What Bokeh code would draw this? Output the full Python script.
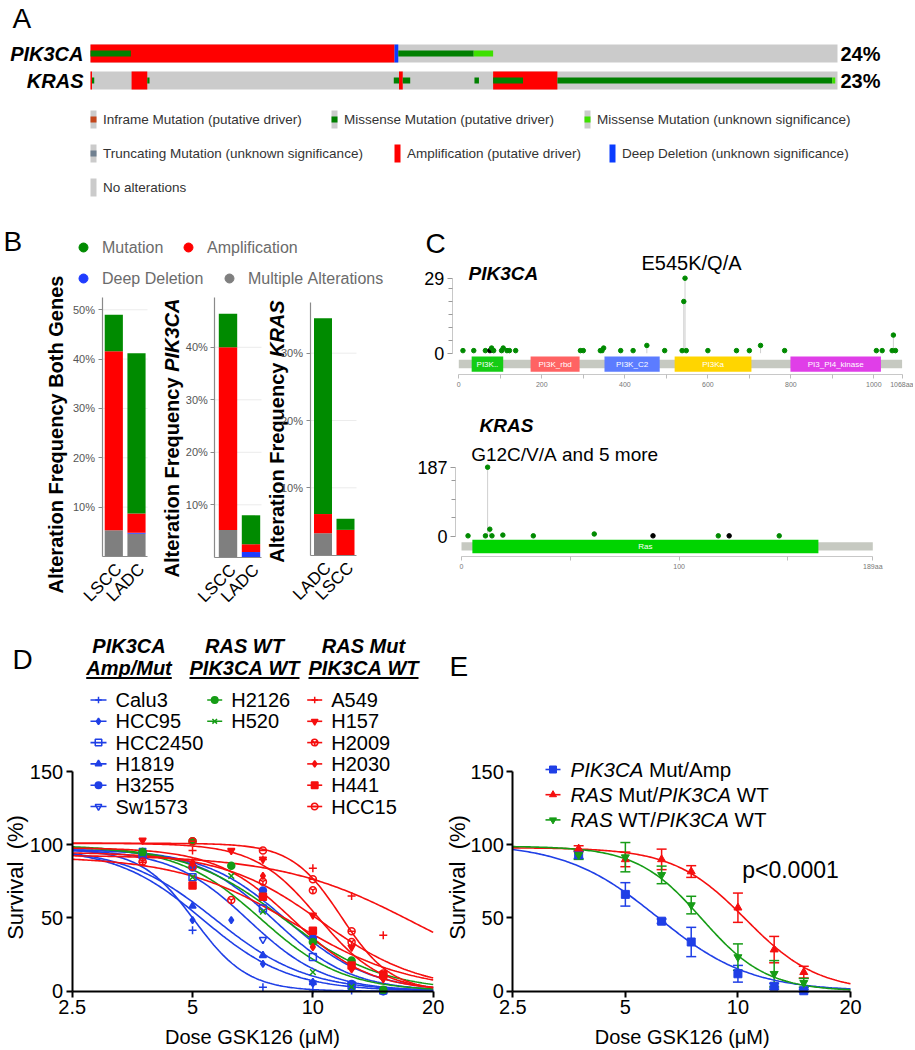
import math
import numpy as np
from bokeh.plotting import figure
from bokeh.models import (Range1d, LinearAxis, LogScale, FixedTicker,
                          CustomJSTickFormatter, ColumnDataSource, Whisker, TeeHead)
from bokeh.core.properties import value
from bokeh.embed import file_html
from bokeh.resources import INLINE

FONT = "Liberation Sans"
W, H = 913, 1048
NB = "\u00a0"

# ======================= DATA =======================
# ---- Panel A: oncoprint (track split into 1000 sample columns) ----
onco_genes = ["PIK3CA", "KRAS"]
onco_pct = ["24%", "23%"]
onco_n = 1000
onco_gene = [0, 0, 0, 0, 0,
             1, 1, 1, 1, 1, 1, 1, 1, 1, 1, 1, 1]
onco_start = [0, 0, 407, 412, 513,
              0, 2, 55, 76, 406, 413, 418, 514, 539, 539, 625, 993]
onco_end = [407, 54, 412, 513, 539,
            2, 5, 76, 79, 413, 418, 428, 520, 625, 579, 993, 997]
onco_type = ["amp", "miss_drv", "deep", "miss_drv", "miss_unk",
             "amp", "miss_drv", "amp", "miss_drv", "miss_drv", "amp", "miss_drv",
             "miss_drv", "amp", "miss_drv", "miss_drv", "miss_unk"]
legA_text = ["Inframe Mutation (putative driver)", "Missense Mutation (putative driver)",
             "Missense Mutation (unknown significance)", "Truncating Mutation (unknown significance)",
             "Amplification (putative driver)", "Deep Deletion (unknown significance)",
             "No alterations"]
legA_type = ["inframe", "miss_drv", "miss_unk", "trunc", "amp", "deep", "none"]

# ---- Panel B: alteration frequency (%) ----
b_titles = [("Alteration Frequency Both Genes", ""),
            ("Alteration Frequency ", "PIK3CA"),
            ("Alteration Frequency ", "KRAS")]
b_cats = [["LSCC", "LADC"], ["LSCC", "LADC"], ["LADC", "LSCC"]]
b_multiple = [[5.3, 4.6], [5.2, 0.0], [3.25, 0.0]]
b_deep = [[0.0, 0.2], [0.0, 1.0], [0.0, 0.0]]
b_amp = [[36.3, 3.9], [34.8, 1.5], [2.85, 3.75]]
b_mut = [[7.4, 32.5], [6.4, 5.5], [29.1, 1.65]]
b_ticks = [[10, 20, 30, 40, 50], [10, 20, 30, 40], [10, 20, 30]]
b_legend = ["Mutation", "Amplification", "Deep Deletion", "Multiple Alterations"]

# ---- Panel C: lollipop plots ----
pik_len = 1068
pik_pos = [10, 36, 64, 75, 79, 84, 103, 107, 116, 122, 137, 293, 300, 341, 345, 349,
           390, 420, 453, 496, 538, 542, 545, 548, 600, 669, 700, 727, 785, 1006, 1020,
           1044, 1047, 1052]
pik_cnt = [1, 1, 1, 1, 2, 1, 1, 2, 1, 1, 1, 1, 1, 1, 1, 2,
           1, 1, 3, 1, 1, 20, 29, 1, 1, 1, 1, 3, 1, 1, 1,
           1, 7, 1]
pik_trunc = [3]
pik_dom_name = ["PI3K..", "PI3K_rbd", "PI3K_C2", "PI3Ka", "PI3_PI4_kinase"]
pik_dom_start = [31, 173, 351, 520, 799]
pik_dom_end = [107, 291, 484, 705, 1017]
kras_len = 189
kras_pos = [3, 11, 12, 13, 14, 19, 33, 61, 88, 118, 123, 146]
kras_cnt = [1, 1, 187, 19, 1, 3, 1, 6, 1, 1, 1, 1]
kras_trunc = [8, 10]
kras_dom_name = ["Ras"]
kras_dom_start = [5]
kras_dom_end = [164]

# ---- Panel D: cell line dose-response ----
d_names = ["Calu3", "HCC95", "HCC2450", "H1819", "H3255", "Sw1573",
           "H2126", "H520",
           "A549", "H157", "H2009", "H2030", "H441", "HCC15"]
d_group = [0, 0, 0, 0, 0, 0, 1, 1, 2, 2, 2, 2, 2, 2]
d_headers = [("PIK3CA", "Amp/Mut"), ("RAS WT", "PIK3CA WT"), ("RAS Mut", "PIK3CA WT")]
d_x = [[3.75, 5, 7.5, 10, 12.5, 15],
       [3.75, 5, 6.25, 7.5, 10, 12.5, 15],
       [3.75, 5, 7.5, 10, 12.5, 15],
       [3.75, 5, 7.5, 10, 12.5, 15],
       [3.75, 5, 7.5, 10, 12.5, 15],
       [3.75, 5, 7.5, 10, 12.5, 15],
       [3.75, 5, 6.25, 7.5, 10, 12.5, 15],
       [3.75, 5, 6.25, 7.5, 10, 12.5, 15],
       [3.75, 5, 7.5, 10, 12.5, 15],
       [3.75, 6.25, 7.5, 10, 12.5, 15],
       [3.75, 5, 6.25, 7.5, 10, 12.5, 15],
       [5, 7.5, 10, 12.5, 15],
       [5, 7.5, 10, 12.5, 15],
       [5, 7.5, 10, 12.5, 15]]
d_y = [[95, 41.6, 2.7, 1, 0.5, 0],
       [92, 48.5, 48.5, 18.7, 6, 2, 0],
       [93, 77.8, 56.5, 23.3, 4, 0.5],
       [95, 58.1, 24.4, 6, 2, 0],
       [94, 84.4, 68.7, 36, 5, 0],
       [96, 86, 35.2, 5.5, 3, 0.5],
       [95, 102.3, 85.6, 64.5, 33.6, 21, 1],
       [94.3, 77.8, 78.7, 54.3, 13, 3, 0.4],
       [88, 96, 90, 84, 65, 38.2],
       [103, 96, 90.1, 51.9, 30, 8.5],
       [88.6, 85, 62.2, 74.8, 69, 33.6, 10],
       [88, 78.7, 30.2, 15, 9],
       [72.1, 64.5, 41.2, 17.5, 11],
       [102.3, 96.1, 76.4, 40.9, 12]]
# fitted 4-parameter curve parameters (bottom = 0)
d_top = [97, 98, 97, 98, 97, 97, 100, 99, 93, 101, 95, 98, 92, 101]
d_ic50 = [5.05, 5.3, 8.0, 5.7, 8.6, 6.9, 8.4, 7.4, 18.0, 10.3, 10.5, 8.9, 9.0, 11.8]
d_hill = [6.5, 4.0, 4.5, 3.8, 4.2, 4.5, 3.5, 4.2, 2.6, 5.5, 3.5, 4.5, 3.0, 7.0]

# ---- Panel E: grouped dose-response (mean, SEM) ----
e_labels = [[("PIK3CA", "italic"), (" Mut/Amp", "normal")],
            [("RAS", "italic"), (" Mut/", "normal"), ("PIK3CA", "italic"), (" WT", "normal")],
            [("RAS", "italic"), (" WT/", "normal"), ("PIK3CA", "italic"), (" WT", "normal")]]
e_x = [3.75, 5, 6.25, 7.5, 10, 12.5, 15]
e_mean = [[93.1, 66.1, 47.8, 33.6, 11.9, 3.4, 0.3],
          [97.3, 90.0, 90.0, 81.7, 57.0, 28.4, 13.0],
          [93.0, 91.5, 79.4, 58.8, 23.3, 11.9, 5.7]]
e_sem = [[2.5, 8.0, 1.5, 10.0, 5.7, 2.0, 1.0],
         [2.0, 5.0, 7.0, 4.0, 10.0, 9.0, 4.0],
         [3.0, 10.0, 6.0, 6.0, 9.0, 9.0, 3.0]]
e_top = [101, 98, 99]
e_ic50 = [6.1, 10.5, 8.0]
e_hill = [3.5, 4.5, 5.0]
e_pvalue = "p<0.0001"

# ======================= STYLE =======================
GREY = "#cbcbcb"
ONCO_COL = {"amp": "#ff0000", "deep": "#0a3cff", "miss_drv": "#008000",
            "miss_unk": "#3ee000", "inframe": "#c4471c", "trunc": "#708090"}
B_COL = {"mut": "#008b00", "amp": "#ff0000", "deep": "#1f3cff", "multi": "#7f7f7f"}
BLUE, GREEN, RED = "#1f3fe6", "#169c16", "#f50f0f"
D_COL = [BLUE] * 6 + [GREEN] * 2 + [RED] * 6
D_MARK = [[("cross", True)], [("diamond", True)], [("square", False)], [("triangle", True)],
          [("circle", True)], [("inverted_triangle", False)],
          [("circle", True)], [("x", True)],
          [("cross", True)], [("inverted_triangle", True)], [("circle_y", False)],
          [("diamond", True)], [("square", True)], [("circle", False), ("dash", False)]]
E_COL = [BLUE, RED, GREEN]
E_MARK = ["square", "triangle", "inverted_triangle"]

W_REG = {' ': 278, '/': 278, 'A': 667, 'C': 722, 'I': 278, 'K': 667, 'M': 833, 'P': 667,
         'R': 722, 'S': 667, 'T': 611, 'W': 944, '3': 556, 'm': 833, 'p': 556, 't': 278, 'u': 556}
W_BOLD = {' ': 278, '/': 278, 'A': 722, 'C': 722, 'I': 278, 'K': 722, 'M': 833, 'P': 667,
          'R': 722, 'S': 667, 'T': 611, 'W': 944, '3': 556, 'm': 889, 'p': 611, 't': 333,
          'u': 611, 'F': 611, 'e': 556, 'l': 278, 'r': 389, 'a': 556, 'i': 278, 'o': 611,
          'n': 611, 'q': 611, 'c': 556, 'y': 556, 'B': 722, 'h': 611, 'G': 778, 's': 556}


def tw(s, size, bold=False):
    t = W_BOLD if bold else W_REG
    return sum(t.get(ch, 556) for ch in s) * size / 1000.0


# ======================= FIGURE =======================
p = figure(width=W, height=H, x_range=Range1d(0, W), y_range=Range1d(H, 0),
           x_axis_location=None, y_axis_location=None, min_border=0,
           output_backend="svg", toolbar_location=None)
p.outline_line_color = None
p.xgrid.visible = False
p.ygrid.visible = False

XR, YR, XS, MAPS = {}, {}, {}, {}


def lin_x(name, d0, p0, d1, p1):
    s = (d1 - d0) / (p1 - p0)
    XR[name] = Range1d(d0 - p0 * s, d0 + (W - p0) * s)
    MAPS[name] = ("lin", d0, p0, s)


def lin_y(name, d0, p0, d1, p1):
    s = (d1 - d0) / (p1 - p0)
    YR[name] = Range1d(d0 + (H - p0) * s, d0 - p0 * s)
    MAPS[name] = ("lin", d0, p0, s)


def log_x(name, d0, p0, d1, p1):
    l0 = math.log10(d0)
    s = (math.log10(d1) - l0) / (p1 - p0)
    XR[name] = Range1d(10 ** (l0 - p0 * s), 10 ** (l0 + (W - p0) * s))
    XS[name] = LogScale()
    MAPS[name] = ("log", l0, p0, s)


def inv(name, px):
    kind, d0, p0, s = MAPS[name]
    v = d0 + (px - p0) * s
    return 10 ** v if kind == "log" else v


def txt(x, y, s, size, xr="default", yr="default", style="normal", color="black",
        align="left", baseline="middle", angle=0.0, xo=0, yo=0):
    p.text(x=[x], y=[y], text=[s.replace(" ", NB)], text_font=value(FONT),
           text_font_size=f"{size}px",
           text_font_style=style, text_color=color, text_align=align,
           text_baseline=baseline, angle=angle, x_offset=xo, y_offset=yo,
           x_range_name=xr, y_range_name=yr)


def style_axis(ax, label_size, line_color="black", width=1.0,
               tick_out=5, label_color="black"):
    ax.axis_line_color = line_color
    ax.axis_line_width = width
    ax.major_tick_line_color = line_color
    ax.major_tick_line_width = width
    ax.major_tick_out = tick_out
    ax.major_tick_in = 0
    ax.minor_tick_line_color = None
    ax.major_label_text_font = FONT
    ax.major_label_text_font_size = f"{label_size}px"
    ax.major_label_text_color = label_color
    ax.major_label_standoff = 3


# ---------------- Panel A ----------------
txt(12, 18, "A", 28)
lin_x("ax", 0, 90, onco_n, 837)
lin_y("ay", 0, 53, 1, 80)
ROW_H = 18 / 27.0
MUT_H = 6 / 27.0
p.hbar(y=[0, 1], left=0, right=onco_n, height=ROW_H, fill_color=GREY, line_color=None,
       x_range_name="ax", y_range_name="ay")
full = [i for i, t in enumerate(onco_type) if t in ("amp", "deep")]
thin = [i for i, t in enumerate(onco_type) if t not in ("amp", "deep")]
for idx, hh in ((full, ROW_H), (thin, MUT_H)):
    p.hbar(y=[onco_gene[i] for i in idx], left=[onco_start[i] for i in idx],
           right=[onco_end[i] for i in idx], height=hh,
           fill_color=[ONCO_COL[onco_type[i]] for i in idx], line_color=None,
           x_range_name="ax", y_range_name="ay")
for g, (name, pct) in enumerate(zip(onco_genes, onco_pct)):
    txt(0, g, name, 20, "ax", "ay", style="bold italic", align="right", xo=-7)
    txt(onco_n, g, pct, 20, "ax", "ay", style="bold", xo=3)

legA_x = [90, 331, 584, 90, 394, 609, 90]
legA_row = [0, 0, 0, 1, 1, 1, 2]
legA_rowy = [119, 153, 187]
for t, typ, lx, r in zip(legA_text, legA_type, legA_x, legA_row):
    yy = legA_rowy[r]
    if typ in ("amp", "deep"):
        p.rect(x=[lx + 3], y=[yy], width=6, height=18, fill_color=ONCO_COL[typ], line_color=None)
    else:
        p.rect(x=[lx + 3], y=[yy], width=6, height=18, fill_color=GREY, line_color=None)
        if typ != "none":
            p.rect(x=[lx + 3], y=[yy], width=6, height=6, fill_color=ONCO_COL[typ], line_color=None)
    txt(lx + 12.5, yy, t, 13.5, color="#333333")

# ---------------- Panel B ----------------
txt(3, 241, "B", 28)
legB_pos = [(83, 247), (188, 247), (83, 278), (229, 278)]
legB_col = [B_COL["mut"], B_COL["amp"], B_COL["deep"], B_COL["multi"]]
for (lx, ly), c, t in zip(legB_pos, legB_col, b_legend):
    p.scatter(x=[lx], y=[ly], marker="circle", size=9, fill_color=c, line_color=c)
    txt(lx + 18.5, ly, t, 16, color="#6b6b6b")

B_LAY = [dict(axis_x=101.5, c0=113.3, c1=136.0, right=147, y0=556.0, px10=49.35, top=52.5, tx=55, ty=434),
         dict(axis_x=214.3, c0=227.5, c1=250.5, right=261, y0=556.8, px10=52.5, top=49.5, tx=171.7, ty=437.5),
         dict(axis_x=309.5, c0=322.5, c1=345.0, right=356, y0=554.6, px10=67.3, top=37.6, tx=276.7, ty=431)]
for i, L in enumerate(B_LAY):
    xn, yn = f"b{i}x", f"b{i}y"
    lin_x(xn, 0, L["c0"], 1, L["c1"])
    lin_y(yn, 0, L["y0"], 10, L["y0"] - L["px10"])
    ax_loc = inv(xn, L["axis_x"])
    right = inv(xn, L["right"])
    ticks = b_ticks[i]
    p.segment(x0=[ax_loc] * len(ticks), x1=[right] * len(ticks), y0=ticks, y1=ticks,
              line_color="#ececec", line_width=1, x_range_name=xn, y_range_name=yn)
    bottoms = [0.0, 0.0]
    for vals, c in ((b_multiple[i], B_COL["multi"]), (b_deep[i], B_COL["deep"]),
                    (b_amp[i], B_COL["amp"]), (b_mut[i], B_COL["mut"])):
        tops = [b + v for b, v in zip(bottoms, vals)]
        p.vbar(x=[0, 1], bottom=bottoms, top=tops, width=0.8, fill_color=c, line_color=None,
               x_range_name=xn, y_range_name=yn)
        bottoms = tops
    yax = LinearAxis(x_range_name=xn, y_range_name=yn, fixed_location=ax_loc,
                     bounds=(0, L["top"]), ticker=FixedTicker(ticks=ticks, minor_ticks=[]),
                     formatter=CustomJSTickFormatter(code="return tick + '%'"))
    style_axis(yax, 11, line_color="#8a8a8a", width=1.2, tick_out=4, label_color="#555555")
    p.add_layout(yax, "left")
    xax = LinearAxis(x_range_name=xn, y_range_name=yn, fixed_location=0,
                     bounds=(ax_loc, right), ticker=FixedTicker(ticks=[], minor_ticks=[]))
    style_axis(xax, 11, line_color="#8a8a8a", width=1.2, tick_out=0)
    xax.major_tick_line_color = None
    p.add_layout(xax, "below")
    for k, cat in enumerate(b_cats[i]):
        txt(k, 0, cat, 17, xn, yn, align="right", angle=math.pi / 4, xo=5, yo=10)
    main, gene = b_titles[i]
    if gene == "":
        txt(L["tx"], L["ty"], main, 20, style="bold", align="center", angle=math.pi / 2)
    else:
        w1 = tw(main, 20, True)
        w2 = tw(gene, 20, True)
        ys = L["ty"] + (w1 + w2) / 2
        txt(L["tx"], ys, main.strip(), 20, style="bold", angle=math.pi / 2)
        txt(L["tx"], ys - w1, gene, 20, style="bold italic", angle=math.pi / 2)

# ---------------- Panel C ----------------
txt(425, 243, "C", 28)


def lollipop(tag, length, pos, cnt, trunc, dnames, dstart, dend, dcols,
             x0px, x1px, y0px, ytop_px, ymax, axis_px, xaxis_px, dom_px, bb_px,
             xticks, xminor, yminor):
    xn, yn = tag + "x", tag + "y"
    lin_x(xn, 0, x0px, length, x1px)
    lin_y(yn, 0, y0px, ymax, ytop_px)
    p.quad(left=[0], right=[length], bottom=[inv(yn, bb_px[1])], top=[inv(yn, bb_px[0])],
           fill_color="#c6c9c1", line_color=None, x_range_name=xn, y_range_name=yn)
    p.quad(left=dstart, right=dend, bottom=inv(yn, dom_px[1]), top=inv(yn, dom_px[0]),
           fill_color=dcols, line_color=None, x_range_name=xn, y_range_name=yn)
    mids = [(a + b) / 2 for a, b in zip(dstart, dend)]
    p.text(x=mids, y=[inv(yn, (dom_px[0] + dom_px[1]) / 2)] * len(mids), text=dnames,
           text_font=value(FONT), text_font_size="8px", text_color="white",
           text_align="center", text_baseline="middle", x_range_name=xn, y_range_name=yn)
    p.segment(x0=pos, x1=pos, y0=[0] * len(pos), y1=cnt, line_color="#cfcfcf", line_width=1,
              x_range_name=xn, y_range_name=yn)
    cols = ["black" if k in trunc else "#008a00" for k in range(len(pos))]
    p.scatter(x=pos, y=cnt, size=4.5, marker="circle", fill_color=cols, line_color=cols,
              x_range_name=xn, y_range_name=yn)
    yax = LinearAxis(x_range_name=xn, y_range_name=yn, fixed_location=inv(xn, axis_px),
                     bounds=(0, ymax), ticker=FixedTicker(ticks=[0, ymax], minor_ticks=yminor))
    style_axis(yax, 18, line_color="#c8c8c8", width=1, tick_out=5)
    yax.major_tick_line_color = "#9a9a9a"
    yax.minor_tick_line_color = "#9a9a9a"
    yax.minor_tick_out = 4
    yax.minor_tick_in = 0
    p.add_layout(yax, "left")
    xax = LinearAxis(x_range_name=xn, y_range_name=yn, fixed_location=inv(yn, xaxis_px),
                     bounds=(0, length), ticker=FixedTicker(ticks=xticks, minor_ticks=xminor),
                     major_label_overrides={length: f"{length}aa"})
    style_axis(xax, 7, line_color="#c8c8c8", width=1, tick_out=4, label_color="#777777")
    xax.major_tick_line_color = "#bdbdbd"
    xax.minor_tick_line_color = "#bdbdbd"
    xax.minor_tick_out = 4
    xax.minor_tick_in = 0
    xax.major_label_standoff = 2
    p.add_layout(xax, "below")


lollipop("c1", pik_len, pik_pos, pik_cnt, pik_trunc, pik_dom_name, pik_dom_start, pik_dom_end,
         ["#14cc14", "#ff6363", "#5c7cff", "#ffd500", "#e03ee8"],
         458.3, 901.6, 352.7, 277.7, 29, 451.7, 374, (356, 371.3), (359.3, 367.7),
         [0, 200, 400, 600, 800, 1000, 1068], [100, 300, 500, 700, 900], [5, 10, 15, 20, 25])
txt(468, 273, "PIK3CA", 19, style="bold italic")
txt(691, 262.5, "E545K/Q/A", 20, align="center")

lollipop("c2", kras_len, kras_pos, kras_cnt, kras_trunc, kras_dom_name, kras_dom_start, kras_dom_end,
         ["#00d400"],
         461, 872.3, 535.7, 466.7, 187, 455, 556, (539.3, 552.7), (541.7, 550),
         [0, 100, 189], [50, 150], [50, 100, 150])
txt(479, 424.5, "KRAS", 19, style="bold italic")
txt(470.7, 453.5, "G12C/V/A and 5 more", 19)

# ---------------- Panel D ----------------
txt(12, 659, "D", 28)
log_x("dx", 2.5, 71.7, 20, 432.7)
lin_y("dy", 0, 990.7, 150, 771)
xs = np.geomspace(2.5, 20, 200)


def draw_markers(x, y, marks, c, size, xr, yr):
    for m, filled in marks:
        p.scatter(x=x, y=y, marker=m, size=size, line_color=c, line_width=1.5,
                  fill_color=c if filled else None, x_range_name=xr, y_range_name=yr)


for k in range(len(d_names)):
    ys = d_top[k] / (1 + (xs / d_ic50[k]) ** d_hill[k])
    p.line(x=xs, y=ys, line_color=D_COL[k], line_width=1.6, x_range_name="dx", y_range_name="dy")
for k in range(len(d_names)):
    sz = 8 if D_MARK[k][0][0] in ("cross", "x") else 7
    draw_markers(d_x[k], d_y[k], D_MARK[k], D_COL[k], sz, "dx", "dy")


def dose_axes(xn, yn):
    yax = LinearAxis(x_range_name=xn, y_range_name=yn, fixed_location=2.5, bounds=(0, 150),
                     ticker=FixedTicker(ticks=[0, 50, 100, 150], minor_ticks=[]))
    style_axis(yax, 20, width=2, tick_out=6)
    p.add_layout(yax, "left")
    xax = LinearAxis(x_range_name=xn, y_range_name=yn, fixed_location=0, bounds=(2.5, 20),
                     ticker=FixedTicker(ticks=[2.5, 5, 10, 20], minor_ticks=[]),
                     formatter=CustomJSTickFormatter(code="return String(tick)"))
    style_axis(xax, 20, width=2, tick_out=6)
    p.add_layout(xax, "below")


dose_axes("dx", "dy")
txt(15, 877, "Survival  (%)", 22, align="center", angle=math.pi / 2)
txt(252, 1036, "Dose GSK126 (\u03bcM)", 20, align="center")

hdr_cx = [128.5, 244, 363]
for (l1, l2), cx in zip(d_headers, hdr_cx):
    txt(cx, 645.5, l1, 20, style="bold italic", align="center")
    txt(cx, 667.5, l2, 20, style="bold italic", align="center")
    w2 = tw(l2, 20, True)
    p.segment(x0=[cx - w2 / 2], x1=[cx + w2 / 2], y0=[677.5], y1=[677.5], line_color="black",
              line_width=1.8)
leg_cols = [(90, 106, 115), (206.7, 221.7, 230.7), (306.7, 321.7, 330.7)]
row_in_group = [0, 0, 0]
for k, name in enumerate(d_names):
    g = d_group[k]
    r = row_in_group[g]
    row_in_group[g] += 1
    yy = 699.5 + 21.3 * r
    a, b, tx = leg_cols[g]
    p.segment(x0=[a], x1=[b], y0=[yy], y1=[yy], line_color=D_COL[k], line_width=1.6)
    draw_markers([(a + b) / 2], [yy], D_MARK[k], D_COL[k], 6.5, "default", "default")
    txt(tx, yy, name, 20)

# ---------------- Panel E ----------------
txt(449, 666, "E", 28)
log_x("ex", 2.5, 512.3, 20, 850)
lin_y("ey", 0, 990.7, 150, 771)
for k in range(3):
    ys = e_top[k] / (1 + (xs / e_ic50[k]) ** e_hill[k])
    p.line(x=xs, y=ys, line_color=E_COL[k], line_width=1.6, x_range_name="ex", y_range_name="ey")
for k in range(3):
    src = ColumnDataSource(dict(base=e_x,
                                upper=[m + s for m, s in zip(e_mean[k], e_sem[k])],
                                lower=[m - s for m, s in zip(e_mean[k], e_sem[k])]))
    wk = Whisker(source=src, base="base", upper="upper", lower="lower", dimension="height",
                 line_color=E_COL[k], line_width=1.5,
                 upper_head=TeeHead(size=10, line_color=E_COL[k], line_width=1.5),
                 lower_head=TeeHead(size=10, line_color=E_COL[k], line_width=1.5),
                 x_range_name="ex", y_range_name="ey")
    p.add_layout(wk)
    p.scatter(x=e_x, y=e_mean[k], marker=E_MARK[k], size=8, fill_color=E_COL[k],
              line_color=E_COL[k], x_range_name="ex", y_range_name="ey")
dose_axes("ex", "ey")
txt(456.7, 877, "Survival  (%)", 22, align="center", angle=math.pi / 2)
txt(681.7, 1036, "Dose GSK126 (\u03bcM)", 20, align="center")
txt(741.7, 869, e_pvalue, 23)
for k, pieces in enumerate(e_labels):
    yy = 769 + 25.2 * k
    p.segment(x0=[545], x1=[560], y0=[yy], y1=[yy], line_color=E_COL[k], line_width=1.6)
    p.scatter(x=[552.5], y=[yy], marker=E_MARK[k], size=7, fill_color=E_COL[k], line_color=E_COL[k])
    xx = 570
    for s, st in pieces:
        txt(xx, yy, s, 20.5, style=st)
        xx += tw(s, 20.5)

p.extra_x_ranges = XR
p.extra_y_ranges = YR
p.extra_x_scales = XS

open("out.html", "w").write(file_html(p, INLINE))
